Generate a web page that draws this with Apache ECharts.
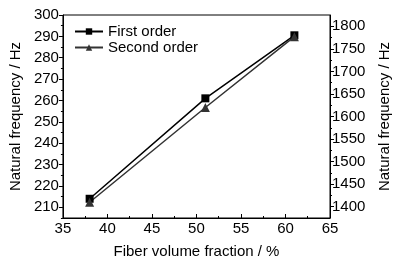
<!DOCTYPE html>
<html>
<head>
<meta charset="utf-8">
<script src="https://cdn.jsdelivr.net/npm/echarts@6/dist/echarts.min.js"></script>
<style>
  html, body { margin: 0; padding: 0; background: #fff; }
  #chart { width: 411px; height: 265px; }
</style>
</head>
<body>
<div id="chart"></div>
<script>
// 数据
const fiberFraction = [38, 51, 61]
const firstOrder = [214, 261, 290.5]
const secondOrder = [1410, 1620, 1777]

// 刻度
const leftMajor = [210, 220, 230, 240, 250, 260, 270, 280, 290, 300]
const leftMinor = [205, 215, 225, 235, 245, 255, 265, 275, 285, 295]
const rightMajor = [1400, 1450, 1500, 1550, 1600, 1650, 1700, 1750, 1800]
const rightMinor = [1425, 1475, 1525, 1575, 1625, 1675, 1725, 1775]

const font = 'Liberation Sans, Arial, sans-serif'
const fs = 15
const myEchart = echarts.init(document.querySelector('#chart'))

const yBase = (pos, min, max) => ({
  type: 'value',
  position: pos,
  min: min,
  max: max,
  splitLine: { show: false },
})

myEchart.setOption({
  animation: false,
  grid: {
    left: 61,
    right: 81,
    top: 15,
    bottom: 47,
    show: true,
    borderColor: '#000',
    borderWidth: 1,
  },
  legend: {
    left: 69,
    top: 19,
    orient: 'vertical',
    itemWidth: 28,
    itemHeight: 8,
    itemGap: 1,
    textStyle: { fontFamily: font, fontSize: fs, color: '#000' },
    data: ['First order', 'Second order'],
  },
  xAxis: {
    type: 'value',
    min: 35,
    max: 65,
    interval: 5,
    name: 'Fiber volume fraction / %',
    nameLocation: 'middle',
    nameGap: 26,
    nameTextStyle: { fontFamily: font, fontSize: fs, color: '#000' },
    axisLine: { lineStyle: { color: '#000', width: 1 } },
    axisTick: { inside: true, length: 4, lineStyle: { color: '#000' } },
    minorTick: { show: true, splitNumber: 2, length: 2, lineStyle: { color: '#000' } },
    axisLabel: { fontFamily: font, fontSize: fs, color: '#000', margin: 3 },
    splitLine: { show: false },
  },
  yAxis: [
    {
      ...yBase('left', 205, 300),
      name: 'Natural frequency / Hz',
      nameLocation: 'middle',
      nameGap: 37,
      nameTextStyle: { fontFamily: font, fontSize: fs, color: '#000' },
      axisLine: { show: true, lineStyle: { color: '#000' } },
      axisTick: { show: true, length: 4, customValues: leftMajor, lineStyle: { color: '#000' } },
      axisLabel: { fontFamily: font, fontSize: fs, color: '#000', margin: 4, customValues: leftMajor },
    },
    {
      ...yBase('right', 1375, 1825),
      name: 'Natural frequency / Hz',
      nameLocation: 'middle',
      nameGap: 47,
      nameTextStyle: { fontFamily: font, fontSize: fs, color: '#000' },
      axisLine: { show: true, lineStyle: { color: '#000' } },
      axisTick: { show: true, length: 4, customValues: rightMajor, lineStyle: { color: '#000' } },
      axisLabel: {
        fontFamily: font,
        fontSize: fs,
        color: '#000',
        margin: 2,
        customValues: rightMajor,
        formatter: (v) => String(v),
      },
    },
    // 次刻度
    {
      ...yBase('left', 205, 300),
      axisLine: { show: false },
      axisTick: { show: true, length: 2, customValues: leftMinor, lineStyle: { color: '#000' } },
      axisLabel: { show: false },
    },
    {
      ...yBase('right', 1375, 1825),
      axisLine: { show: false },
      axisTick: { show: true, length: 2, customValues: rightMinor, lineStyle: { color: '#000' } },
      axisLabel: { show: false },
    },
  ],
  series: [
    {
      name: 'First order',
      type: 'line',
      yAxisIndex: 0,
      data: fiberFraction.map((x, i) => [x, firstOrder[i]]),
      symbol: 'rect',
      symbolSize: 8,
      color: '#000',
      lineStyle: { color: '#000', width: 1.5 },
      itemStyle: { color: '#000' },
    },
    {
      name: 'Second order',
      type: 'line',
      yAxisIndex: 1,
      data: fiberFraction.map((x, i) => [x, secondOrder[i]]),
      symbol: 'triangle',
      symbolSize: 9,
      color: '#333',
      lineStyle: { color: '#333', width: 1.5 },
      itemStyle: { color: '#333' },
    },
  ],
})
</script>
</body>
</html>
